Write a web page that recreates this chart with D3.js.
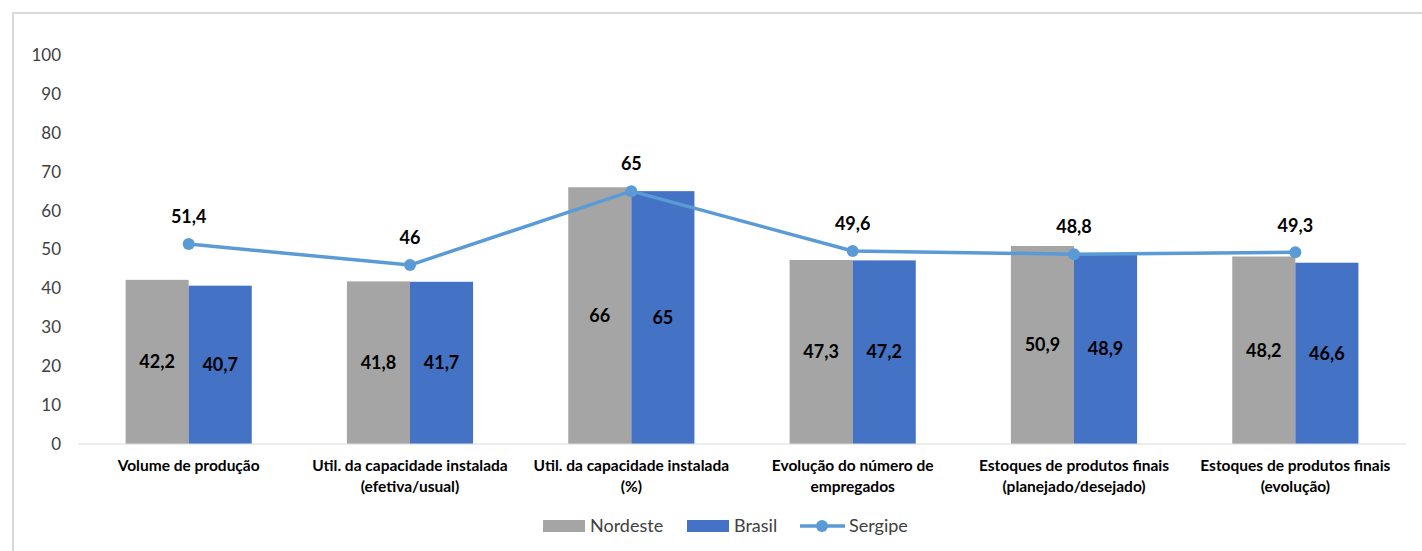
<!DOCTYPE html>
<html>
<head>
<meta charset="utf-8">
<script src="https://cdn.jsdelivr.net/npm/d3@7"></script>
<style>
  html, body { margin: 0; padding: 0; background: #fff; }
  svg { display: block; font-family: Lato, "Liberation Sans", sans-serif; }
</style>
</head>
<body>
<svg id="chart" width="1422" height="551"></svg>
<script>
const categories = [
  ["Volume de produção"],
  ["Util. da capacidade instalada", "(efetiva/usual)"],
  ["Util. da capacidade instalada", "(%)"],
  ["Evolução do número de", "empregados"],
  ["Estoques de produtos finais", "(planejado/desejado)"],
  ["Estoques de produtos finais", "(evolução)"]
];
const nordeste = [42.2, 41.8, 66, 47.3, 50.9, 48.2];
const brasil   = [40.7, 41.7, 65, 47.2, 48.9, 46.6];
const sergipe  = [51.4, 46, 65, 49.6, 48.8, 49.3];
const yTicks = [0, 10, 20, 30, 40, 50, 60, 70, 80, 90, 100];
const seriesNames = ["Nordeste", "Brasil", "Sergipe"];
const colors = { Nordeste: "#A5A5A5", Brasil: "#4472C4", Sergipe: "#5B9BD5" };

const fmt = v => Number.isInteger(v) ? String(v) : v.toFixed(1).replace(".", ",");

const svg = d3.select("#chart");
// outer chart border
svg.append("path")
  .attr("d", "M13,560 L13,13 L1430,13")
  .attr("fill", "none").attr("stroke", "#d9d9d9").attr("stroke-width", 2);

const plot = { left: 78, right: 1406, top: 55, bottom: 444 };
const x = d3.scaleBand().domain(d3.range(categories.length)).range([plot.left, plot.right]).paddingInner(0).paddingOuter(0);
const y = d3.scaleLinear().domain([0, 100]).range([plot.bottom, plot.top]);
const groupW = x.bandwidth() * 0.57;
const xs = d3.scaleBand().domain(["Nordeste", "Brasil"]).range([0, groupW]);

// y axis labels
const yAxis = d3.axisLeft(y).tickValues(yTicks).tickSize(0).tickPadding(0);
const yg = svg.append("g").attr("transform", `translate(${plot.left - 17},0)`).call(yAxis);
yg.select(".domain").remove();
yg.selectAll("text").attr("font-size", 17).attr("fill", "#404040").attr("font-family", "Lato, sans-serif");

// bars
const barData = [];
categories.forEach((c, i) => {
  barData.push({ i, s: "Nordeste", v: nordeste[i] });
  barData.push({ i, s: "Brasil", v: brasil[i] });
});
const bx = d => x(d.i) + (x.bandwidth() - groupW) / 2 + xs(d.s);
svg.append("g").selectAll("rect").data(barData).join("rect")
  .attr("x", bx).attr("width", xs.bandwidth())
  .attr("y", d => y(d.v)).attr("height", d => y(0) - y(d.v))
  .attr("fill", d => colors[d.s]);

// baseline
svg.append("line").attr("x1", plot.left).attr("x2", plot.right)
  .attr("y1", y(0)).attr("y2", y(0)).attr("stroke", "#d9d9d9").attr("stroke-width", 1.2);

// bar labels
svg.append("g").selectAll("text").data(barData).join("text")
  .attr("x", d => bx(d) + xs.bandwidth() / 2)
  .attr("y", d => (y(d.v) + y(0)) / 2)
  .attr("dy", "0.35em").attr("text-anchor", "middle")
  .attr("font-size", 18).attr("font-weight", "bold").attr("fill", "#000")
  .text(d => fmt(d.v));

// Sergipe line
const cx = i => x(i) + x.bandwidth() / 2;
const line = d3.line().x((d, i) => cx(i)).y(d => y(d));
svg.append("path").datum(sergipe).attr("d", line)
  .attr("fill", "none").attr("stroke", colors.Sergipe).attr("stroke-width", 3.5).attr("stroke-linejoin", "round");
svg.append("g").selectAll("circle").data(sergipe).join("circle")
  .attr("cx", (d, i) => cx(i)).attr("cy", d => y(d)).attr("r", 6)
  .attr("fill", colors.Sergipe);
svg.append("g").selectAll("text").data(sergipe).join("text")
  .attr("x", (d, i) => cx(i)).attr("y", d => y(d) - 27)
  .attr("dy", "0.35em").attr("text-anchor", "middle")
  .attr("font-size", 18).attr("font-weight", "bold").attr("fill", "#000")
  .text(d => fmt(d));

// category labels
const cg = svg.append("g").selectAll("text").data(categories).join("text")
  .attr("text-anchor", "middle").attr("font-size", 15.5).attr("font-weight", "bold").attr("fill", "#000");
cg.each(function(lines, i) {
  d3.select(this).selectAll("tspan").data(lines).join("tspan")
    .attr("x", cx(i)).attr("y", (d, k) => 466 + k * 21).attr("dy", "0.35em").text(d => d);
});

// legend
const lg = svg.append("g").attr("font-size", 18).attr("fill", "#404040");
const legendItems = [
  { name: "Nordeste", x: 543, type: "bar" },
  { name: "Brasil", x: 687, type: "bar" },
  { name: "Sergipe", x: 800, type: "line" }
];
const ly = 526;
legendItems.forEach(it => {
  if (it.type === "bar") {
    lg.append("rect").attr("x", it.x).attr("y", ly - 6).attr("width", 42).attr("height", 12).attr("fill", colors[it.name]);
  } else {
    lg.append("line").attr("x1", it.x).attr("x2", it.x + 45).attr("y1", ly).attr("y2", ly)
      .attr("stroke", colors[it.name]).attr("stroke-width", 3.5);
    lg.append("circle").attr("cx", it.x + 22).attr("cy", ly).attr("r", 6).attr("fill", colors[it.name]);
  }
  lg.append("text").attr("x", it.x + (it.type === "bar" ? 47 : 49)).attr("y", ly).attr("dy", "0.35em")
    .attr("fill", "#404040").text(it.name);
});
</script>
</body>
</html>
